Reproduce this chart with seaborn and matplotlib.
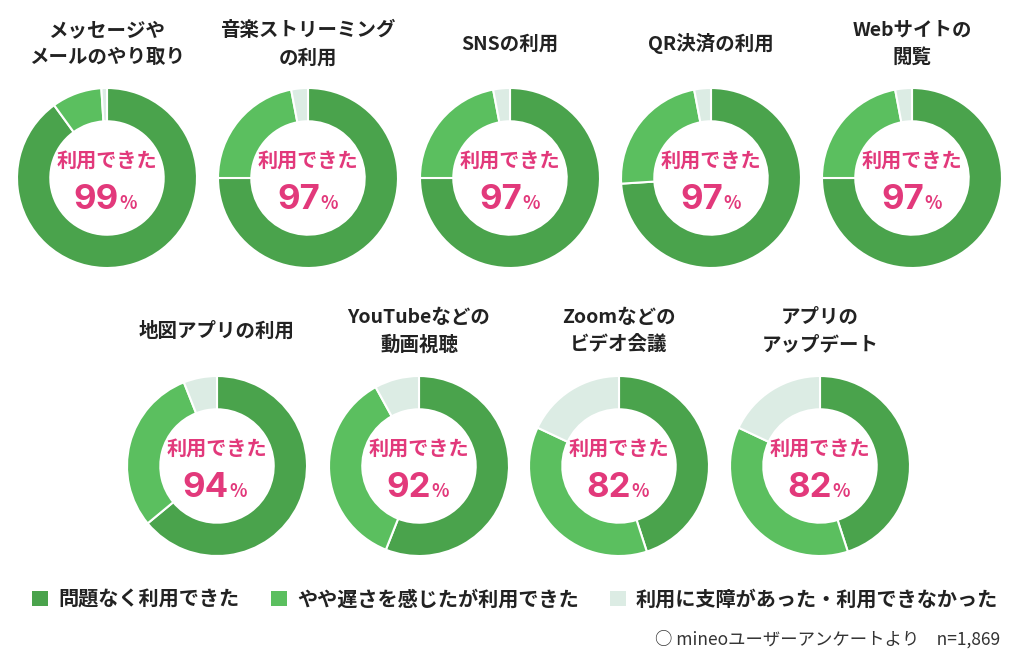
import matplotlib
matplotlib.use("Agg")
import matplotlib.pyplot as plt
from matplotlib.patches import Patch
import seaborn as sns

sns.set_theme(style="white")
plt.rcParams["font.family"] = ["Noto Sans CJK JP", "DejaVu Sans"]

# データ（問題なく / やや遅さ / 支障あり）
titles = ["メッセージや\nメールのやり取り", "音楽ストリーミング\nの利用", "SNSの利用", "QR決済の利用",
          "Webサイトの\n閲覧", "地図アプリの利用", "YouTubeなどの\n動画視聴", "Zoomなどの\nビデオ会議",
          "アプリの\nアップデート"]
no_problem = [90, 75, 75, 74, 75, 64, 56, 45, 45]
slow_ok = [9, 22, 22, 23, 22, 30, 36, 37, 37]
trouble = [1, 3, 3, 3, 3, 6, 8, 18, 18]
usable = [99, 97, 97, 97, 97, 94, 92, 82, 82]
legend_labels = ["問題なく利用できた", "やや遅さを感じたが利用できた", "利用に支障があった・利用できなかった"]

colors = ["#4aa34c", "#5bbf5f", "#dcece4"]
pink = "#e2397b"

W, H = 1024, 665
fig = plt.figure(figsize=(W / 100, H / 100), dpi=100)

# ドーナツの中心位置（ピクセル）
centers = [(107, 178), (308, 178), (510, 178), (711, 178), (912, 178),
           (217, 466), (419, 466), (619, 466), (820, 466)]
R = 90

for i, (cx, cy) in enumerate(centers):
    ax = fig.add_axes([(cx - R) / W, 1 - (cy + R) / H, 2 * R / W, 2 * R / H])
    vals = [no_problem[i], slow_ok[i], trouble[i]]
    ax.pie(vals, colors=colors, startangle=90, counterclock=False, radius=1,
           wedgeprops=dict(width=0.37, edgecolor="white", linewidth=1.5))
    ax.set_xlim(-1, 1)
    ax.set_ylim(-1, 1)
    ax.set_aspect("equal")
    ax.text(0, 0.2, "利用できた", ha="center", va="center", color=pink,
            fontsize=14.5, fontweight="bold")
    ax.text(0.13, -0.34, str(usable[i]), ha="right", va="baseline", color=pink,
            fontsize=25, fontweight="bold", family=["Inter", "DejaVu Sans"])
    ax.text(0.135, -0.34, "%", ha="left", va="baseline", color=pink,
            fontsize=13, fontweight="bold")

    # タイトル
    ty = 44 if cy < 300 else 331
    fig.text(cx / W, 1 - ty / H, titles[i], ha="center", va="center",
             fontsize=14, fontweight="bold", color="#222222", linespacing=1.55)

handles = [Patch(facecolor=c, edgecolor="none") for c in colors]
fig.legend(handles, legend_labels, loc="center left", bbox_to_anchor=(14 / W, 1 - 599 / H),
           ncol=3, frameon=False, handlelength=0.8, handleheight=0.8, handletextpad=0.5,
           columnspacing=1.55, prop=dict(size=14.5, weight="bold"), labelcolor="#222222")

fig.text(1000 / W, 1 - 639 / H, "○ mineoユーザーアンケートより　n=1,869", ha="right", va="center",
         fontsize=12.5, color="#333333")

fig.savefig("out.png", dpi=100, facecolor="white")
